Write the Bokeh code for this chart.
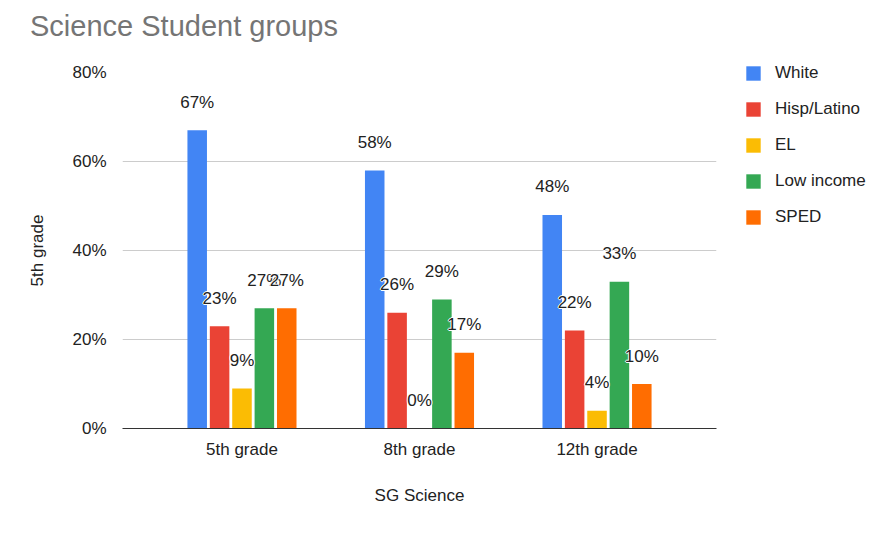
from bokeh.plotting import figure
from bokeh.layouts import row, column
from bokeh.models import (ColumnDataSource, FactorRange, FixedTicker, NumeralTickFormatter,
                          Legend, LegendItem, Range1d, Div)
from bokeh.transform import dodge
from bokeh.embed import file_html
from bokeh.resources import INLINE

grades = ["5th grade", "8th grade", "12th grade"]
groups = ["White", "Hisp/Latino", "EL", "Low income", "SPED"]
white = [0.67, 0.58, 0.48]
hisp_latino = [0.23, 0.26, 0.22]
el = [0.09, 0.00, 0.04]
low_income = [0.27, 0.29, 0.33]
sped = [0.27, 0.17, 0.10]
colors = ["#4285F4", "#EA4335", "#FBBC04", "#34A853", "#FF6D01"]

series = [white, hisp_latino, el, low_income, sped]
cols = ["white", "hisp", "el", "low", "sped"]

data = {"grade": grades}
for c, vals in zip(cols, series):
    data[c] = vals
    data[c + "_lbl"] = [f"{round(v * 100)}%" for v in vals]
source = ColumnDataSource(data)

FONT = "Liberation Sans"
FS = "17px"
INK = "#222222"

title = Div(text="Science Student groups", width=871, height=50, margin=0,
            styles={"font-family": FONT, "font-size": "29px", "color": "#757575",
                    "padding-left": "30px", "padding-top": "10px",
                    "line-height": "33px", "white-space": "nowrap"})

p = figure(width=731, height=483, output_backend="svg", toolbar_location=None,
           x_range=FactorRange(factors=grades, range_padding=0.173,
                               range_padding_units="absolute"),
           y_range=Range1d(0, 0.8),
           min_border_left=122, min_border_right=15, min_border_top=22,
           min_border_bottom=105)
p.frame_align = False
p.outline_line_color = None
p.background_fill_color = "white"
p.border_fill_color = "white"

step = 0.1261
offsets = [-2 * step, -step, 0, step, 2 * step]
for c, color, off in zip(cols, colors, offsets):
    p.vbar(x=dodge("grade", off, range=p.x_range), top=c, width=0.11,
           source=source, fill_color=color, line_color=None)

# value labels above each bar, with a thin white halo behind the text
halo = [(-1, 0), (1, 0), (0, -1), (0, 1)]
for c, off in zip(cols, offsets):
    for dx, dy in halo:
        p.text(x=dodge("grade", off, range=p.x_range), y=c, text=c + "_lbl",
               source=source, text_align="center", text_baseline="middle",
               x_offset=dx, y_offset=-28 + dy, text_font_size=FS,
               text_font={"value": FONT}, text_color="white")
    p.text(x=dodge("grade", off, range=p.x_range), y=c, text=c + "_lbl",
           source=source, text_align="center", text_baseline="middle",
           y_offset=-28, text_font_size=FS, text_font={"value": FONT},
           text_color=INK)

# axes
p.yaxis.ticker = FixedTicker(ticks=[0, 0.2, 0.4, 0.6, 0.8])
p.yaxis.formatter = NumeralTickFormatter(format="0%")
p.yaxis.axis_line_color = None
p.yaxis.major_tick_line_color = None
p.yaxis.minor_tick_line_color = None
p.yaxis.major_label_standoff = 10
p.yaxis.major_label_text_font = FONT
p.yaxis.major_label_text_font_size = FS
p.yaxis.major_label_text_color = INK
p.yaxis.axis_label = "5th grade"
p.yaxis.axis_label_text_font = FONT
p.yaxis.axis_label_text_font_size = FS
p.yaxis.axis_label_text_font_style = "normal"
p.yaxis.axis_label_text_color = INK
p.yaxis.axis_label_standoff = 22

p.xaxis.axis_line_color = "#333333"
p.xaxis.major_tick_line_color = None
p.xaxis.minor_tick_line_color = None
p.xaxis.major_label_standoff = 5
p.xaxis.major_label_text_font = FONT
p.xaxis.major_label_text_font_size = FS
p.xaxis.major_label_text_color = INK
p.xaxis.axis_label = "SG Science"
p.xaxis.axis_label_text_font = FONT
p.xaxis.axis_label_text_font_size = FS
p.xaxis.axis_label_text_font_style = "normal"
p.xaxis.axis_label_text_color = INK
p.xaxis.axis_label_standoff = 24

p.xgrid.grid_line_color = None
p.ygrid.grid_line_color = "#CCCCCC"

# legend panel to the right of the chart; its bars stay hidden and only feed the legend
lg = figure(width=140, height=483, output_backend="svg", toolbar_location=None,
            x_range=p.x_range, y_range=p.y_range,
            min_border=0, x_axis_location=None, y_axis_location=None)
lg.frame_align = False
lg.outline_line_color = None
lg.grid.grid_line_color = None
items = []
for c, name, color, off in zip(cols, groups, colors, offsets):
    r = lg.vbar(x=dodge("grade", off, range=p.x_range), top=c, width=0.11,
                source=source, fill_color=color, line_color=None, visible=False)
    items.append(LegendItem(label=name, renderers=[r]))
legend = Legend(items=items, location=(13, 306), glyph_width=18, glyph_height=18,
                label_height=18, spacing=16, label_standoff=13, padding=0, margin=0,
                border_line_color=None, background_fill_alpha=0,
                inactive_fill_alpha=0, click_policy="none",
                label_text_font=FONT, label_text_font_size=FS,
                label_text_color=INK)
lg.add_layout(legend)

layout = column(title, row(p, lg, spacing=0), spacing=0)
open("out.html", "w").write(file_html(layout, INLINE))
